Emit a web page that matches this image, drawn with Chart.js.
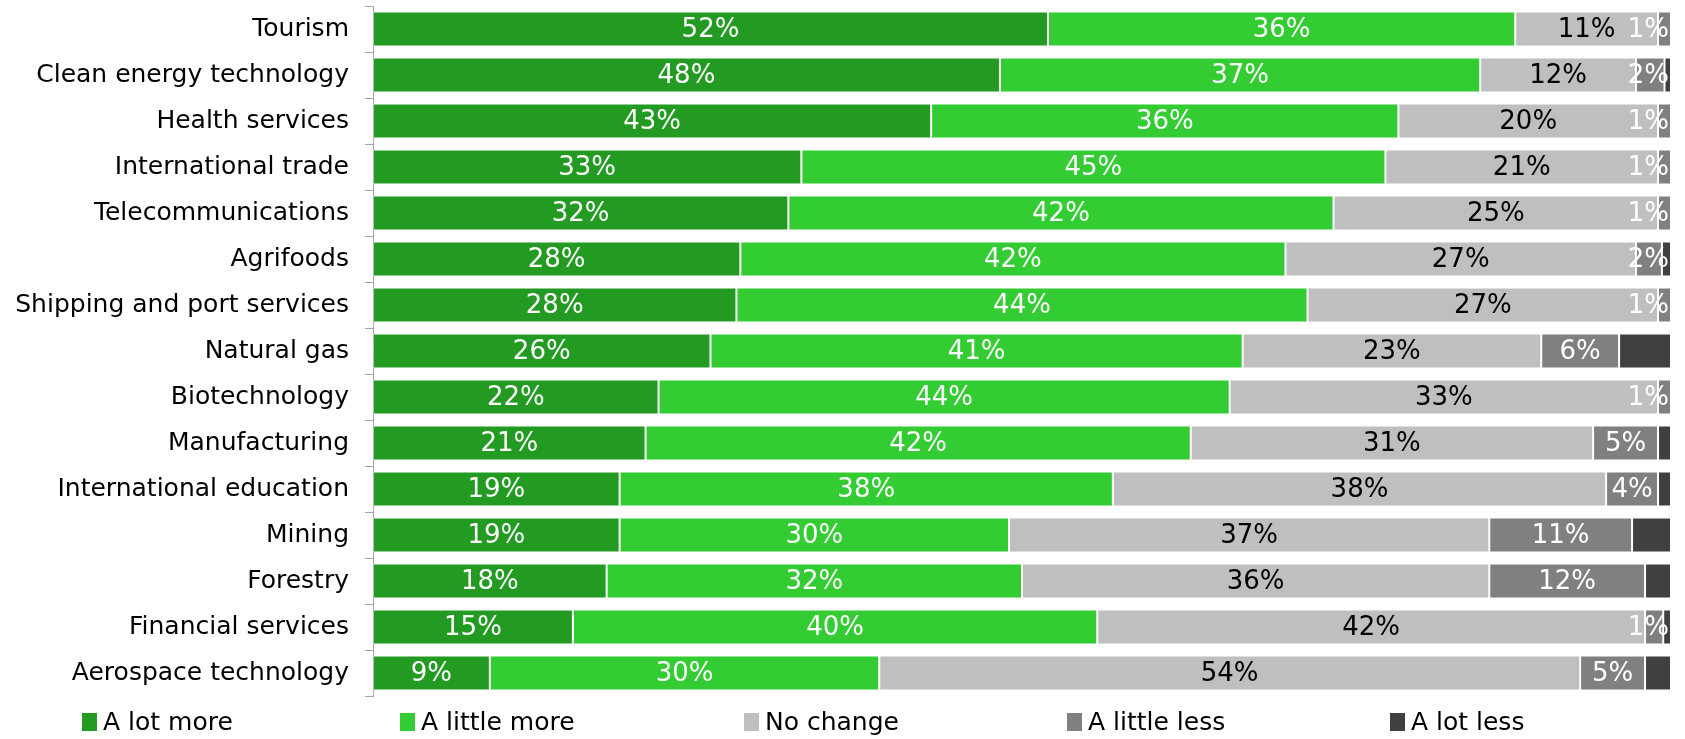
<!DOCTYPE html>
<html lang="en">
<head>
    <meta charset="UTF-8">
    <title>Expected change by sector</title>
    <style>
        html, body { margin: 0; padding: 0; background: #fff; }
        #box { width: 1685px; height: 739px; }
    </style>
    <script src="https://cdn.jsdelivr.net/npm/chart.js"></script>
</head>
<body>
    <div id="box"><canvas id="sectors"></canvas></div>
    <script>
        const sectors = ['Tourism', 'Clean energy technology', 'Health services', 'International trade',
            'Telecommunications', 'Agrifoods', 'Shipping and port services', 'Natural gas', 'Biotechnology',
            'Manufacturing', 'International education', 'Mining', 'Forestry', 'Financial services',
            'Aerospace technology'];

        const aLotMore    = [52, 48.3, 43, 33, 32, 28.3, 28, 26, 22, 21, 19, 19, 18, 15.4, 9];
        const aLittleMore = [36, 37, 36, 45, 42, 42, 44, 41, 44, 42, 38, 30, 32, 40.4, 30];
        const noChange    = [11, 12, 20, 21, 25, 27, 27, 23, 33, 31, 38, 37, 36, 42.2, 54];
        const aLittleLess = [1, 2.2, 1, 1, 1, 2, 1, 6, 1, 5, 4, 11, 12, 1.4, 5];
        const aLotLess    = [0, 0.5, 0, 0, 0, 0.7, 0, 4, 0, 1, 1, 3, 2, 0.6, 2];

        const FONT = 'DejaVu Sans';
        const legendX = [82, 400, 744, 1067, 1390];

        // labels centred in each segment (none on "A lot less"), kept inside the plot
        const segLabels = {
            id: 'segLabels',
            afterDatasetsDraw(chart) {
                const ctx = chart.ctx;
                const right = chart.chartArea.right - 2;
                ctx.save();
                ctx.font = '26px "' + FONT + '"';
                ctx.textAlign = 'center';
                ctx.textBaseline = 'middle';
                chart.data.datasets.forEach((ds, i) => {
                    if (i === 4) return;
                    chart.getDatasetMeta(i).data.forEach((bar, j) => {
                        const v = ds.data[j];
                        if (!v) return;
                        const txt = Math.round(v) + '%';
                        const w = ctx.measureText(txt).width;
                        let x = (bar.x + bar.base) / 2;
                        if (x + w / 2 > right) x = right - w / 2;
                        ctx.fillStyle = i === 2 ? '#000' : '#fff';
                        ctx.fillText(txt, x, bar.y + 1);
                    });
                });
                ctx.restore();
            }
        };

        // legend row along the bottom
        const bottomLegend = {
            id: 'bottomLegend',
            afterDraw(chart) {
                const ctx = chart.ctx;
                const y = 722;
                ctx.save();
                ctx.font = '25px "' + FONT + '"';
                ctx.textBaseline = 'middle';
                chart.data.datasets.forEach((ds, i) => {
                    const x = legendX[i];
                    ctx.fillStyle = ds.backgroundColor;
                    ctx.fillRect(x, y - 9, 15, 18);
                    ctx.fillStyle = '#000';
                    ctx.fillText(ds.label, x + 21, y + 1);
                });
                ctx.restore();
            }
        };

        const ctx = document.getElementById('sectors').getContext('2d');
        new Chart(ctx, {
            type: 'bar',
            data: {
                labels: sectors,
                datasets: [
                    { label: 'A lot more', data: aLotMore, backgroundColor: '#239b22' },
                    { label: 'A little more', data: aLittleMore, backgroundColor: '#33cc33' },
                    { label: 'No change', data: noChange, backgroundColor: '#bfbfbf' },
                    { label: 'A little less', data: aLittleLess, backgroundColor: '#808080' },
                    { label: 'A lot less', data: aLotLess, backgroundColor: '#404040' },
                ],
            },
            options: {
                indexAxis: 'y',
                responsive: true,
                maintainAspectRatio: false,
                animation: false,
                layout: { padding: { top: 6, right: 14, left: 0, bottom: 43 } },
                datasets: {
                    bar: {
                        barPercentage: 0.76,
                        categoryPercentage: 1,
                        borderWidth: 1,
                        borderColor: 'rgba(255,255,255,0.22)',
                        borderSkipped: false,
                    }
                },
                scales: {
                    x: { stacked: true, min: 0, max: 100, display: false },
                    y: {
                        stacked: true,
                        afterFit: (scale) => {
                            scale.width = 373;
                            scale.paddingTop = 0;
                            scale.paddingBottom = 0;
                        },
                        grid: { drawOnChartArea: false, tickLength: 8, color: '#a6a6a6', offset: true },
                        border: { color: '#a6a6a6' },
                        ticks: { color: '#000', padding: 16, font: { family: FONT, size: 25 } },
                    },
                },
                plugins: {
                    tooltip: { enabled: false },
                    legend: { display: false },
                },
            },
            plugins: [segLabels, bottomLegend],
        });
    </script>
</body>
</html>
